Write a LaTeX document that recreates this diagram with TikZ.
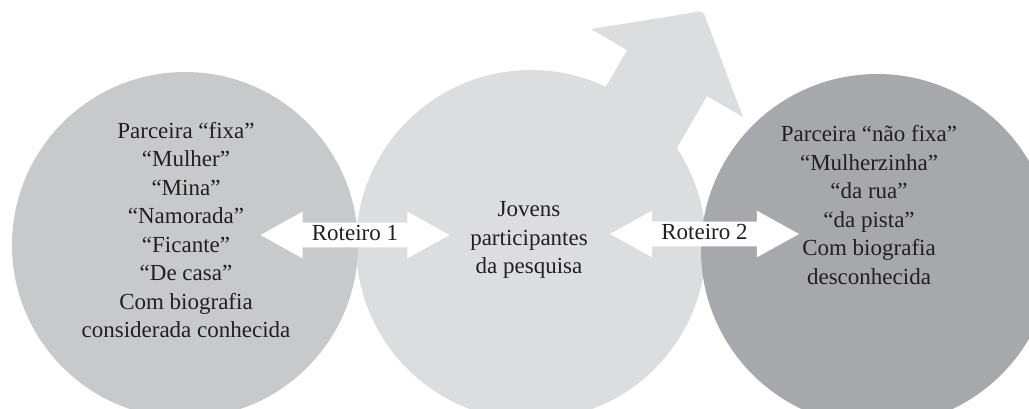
\documentclass[tikz,border=0pt]{standalone}
\usepackage{fontspec}
\setmainfont{Liberation Serif}
\usetikzlibrary{shapes}
\definecolor{discL}{HTML}{C8C9CB}
\definecolor{discM}{HTML}{DCDDDF}
\definecolor{discR}{HTML}{A7A8AB}
\definecolor{ink}{HTML}{231F20}

\begin{document}
\begin{tikzpicture}[
    x=0.5pt, y=-0.5pt,
    disc/.style={circle, inner sep=0pt},
    words/.style={
        align=center, text=ink,
        font=\fontsize{11.5pt}{14.25pt}\selectfont
    },
    roteiro/.style={
        double arrow, fill=white, text=ink,
        double arrow head extend=5.5pt,
        double arrow tip angle=58,
        minimum width=0pt, minimum height=94.5pt,
        inner xsep=0pt, inner ysep=0.75pt,
        text height=8pt, text depth=2.5pt,
        font=\fontsize{11.5pt}{14.25pt}\selectfont
    }
]
\clip (0,0) rectangle (1029,408);
\node[disc, fill=discM, minimum size=175pt] (jovens) at (531,245) {};
% seta
\fill[discM] (517,240.5) -- (627,50) -- (591,29)
  [rounded corners=2pt] -- (703,11) [sharp corners] -- (743,117)
  -- (707,96) -- (597,286.5) -- cycle;
\node[disc, fill=discL, minimum size=173pt] (fixa) at (185,245) {};
\node[disc, fill=discR, minimum size=176pt] (naofixa) at (877,250) {};

\node[roteiro] (rot1) at (355,235) {Roteiro 1};
\node[roteiro] (rot2) at (704.5,234) {Roteiro 2};

\node[words] (txtfixa) at (186,230) {Parceira “fixa”\\“Mulher”\\“Mina”\\
  “Namorada”\\“Ficante”\\“De casa”\\Com biografia\\considerada conhecida};
\node[words] (txtjovens) at (529,240) {Jovens\\participantes\\da pesquisa};
\node[words] (txtnaofixa) at (869,205) {Parceira “não fixa”\\“Mulherzinha”\\
  “da rua”\\“da pista”\\Com biografia\\desconhecida};
\end{tikzpicture}
\end{document}
